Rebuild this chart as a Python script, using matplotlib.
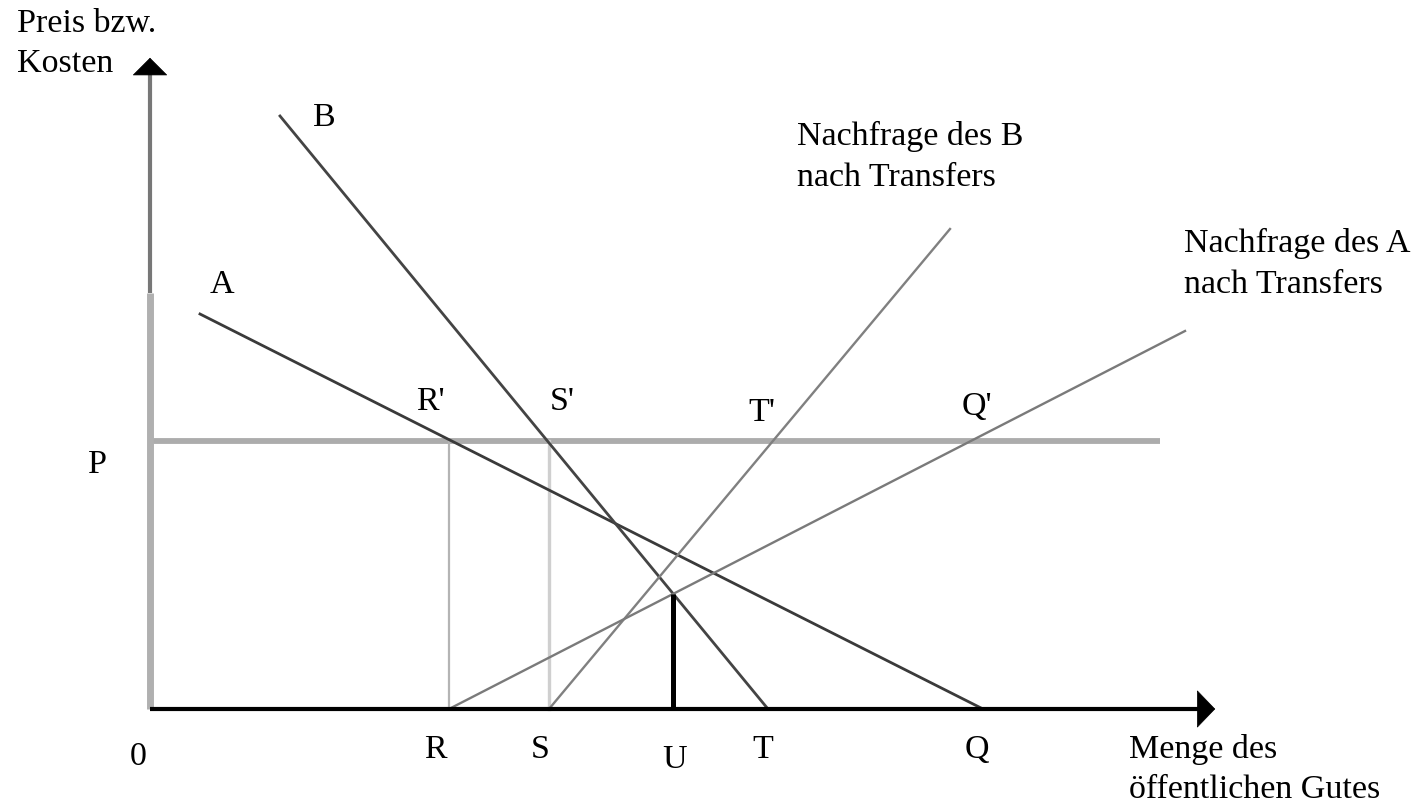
import matplotlib
matplotlib.use("Agg")
import matplotlib.pyplot as plt
import numpy as np

plt.rcParams['font.family'] = ['Liberation Serif', 'DejaVu Serif']

# ---- data (quantity, price) in arbitrary diagram units ----
price_P = 26.8
qty_labels = ['R', 'S', 'U', 'T', 'Q']
qty_R, qty_S, qty_T, qty_Q = 29.9, 39.9, 61.8, 83.3

demand_A_x = [5.0, qty_Q]
demand_A_y = [39.5, 0.0]
demand_B_x = [13.0, qty_T]
demand_B_y = [59.3, 0.0]
transfer_B_x = [qty_S, 80.0]
transfer_B_y = [0.0, 48.0]
transfer_A_x = [qty_R, 103.5]
transfer_A_y = [0.0, 37.8]
price_line_x = [0.0, 101.0]

x_axis_end = 106.8
y_axis_end = 65.2
y_axis_split = 41.6


def intersect(x1, y1, x2, y2):
    m1 = (y1[1] - y1[0]) / (x1[1] - x1[0])
    m2 = (y2[1] - y2[0]) / (x2[1] - x2[0])
    b1 = y1[0] - m1 * x1[0]
    b2 = y2[0] - m2 * x2[0]
    x = (b2 - b1) / (m1 - m2)
    return x, m1 * x + b1


qty_U, height_U = intersect(demand_B_x, demand_B_y, transfer_A_x, transfer_A_y)

fig = plt.figure(figsize=(14.17, 8.04), dpi=100)
ax = fig.add_axes([0, 0, 1, 1])
ax.set_xlim(-15, 126.7)
ax.set_ylim(-9.4, 71.0)
ax.axis('off')

# y axis (light lower part, darker upper part)
ax.plot([0, 0], [0, y_axis_split], color='#b0b0b0', lw=5.0, solid_capstyle='butt', zorder=2)
ax.plot([-0.05, -0.05], [y_axis_split, y_axis_end - 1.0], color='#777777', lw=3.0,
        solid_capstyle='butt', zorder=2)
ax.annotate('', xy=(0, y_axis_end + 0.2), xytext=(0, y_axis_end - 1.6),
            arrowprops=dict(arrowstyle='-|>,head_width=1.2,head_length=1.2',
                            mutation_scale=10, color='black', lw=0.5), zorder=3)

# x axis
ax.plot([0, x_axis_end - 1.5], [0, 0], color='black', lw=3.0, solid_capstyle='butt', zorder=5)
ax.annotate('', xy=(x_axis_end, 0), xytext=(x_axis_end - 2.0, 0),
            arrowprops=dict(arrowstyle='-|>,head_width=1.3,head_length=1.25',
                            mutation_scale=10, color='black', lw=0.5), zorder=5)

# price line
ax.plot(price_line_x, [price_P, price_P], color='#acacac', lw=4.2, solid_capstyle='butt', zorder=1)

# verticals at R and S
ax.plot([qty_R, qty_R], [0, price_P], color='#b4b4b4', lw=1.6, zorder=1)
ax.plot([qty_S, qty_S], [0, price_P], color='#cfcfcf', lw=2.4, zorder=1)

# demand curves
ax.plot(demand_A_x, demand_A_y, color='#3a3a3a', lw=2.0, zorder=3)
ax.plot(demand_B_x, demand_B_y, color='#444444', lw=2.0, zorder=3)
ax.plot(transfer_B_x, transfer_B_y, color='#808080', lw=1.7, zorder=3)
ax.plot(transfer_A_x, transfer_A_y, color='#7a7a7a', lw=1.7, zorder=3)

# U vertical
ax.plot([qty_U, qty_U], [0, height_U], color='black', lw=3.6, solid_capstyle='butt', zorder=4)

fs = 24.5
ls = 1.42
# axis titles
ax.text(-13.3, 70.2, 'Preis bzw.\nKosten', fontsize=fs, ha='left', va='top', linespacing=ls)
ax.text(97.9, -2.4, 'Menge des\nöffentlichen Gutes', fontsize=fs, ha='left', va='top',
        linespacing=ls)
ax.text(-1.2, -4.7, '0', fontsize=fs, ha='center', va='center')
ax.text(-5.3, 24.5, 'P', fontsize=fs, ha='center', va='center')

# quantity labels (small offsets from the marked quantity, as in the original)
label_pos = {'R': qty_R - 1.4, 'S': qty_S - 0.9, 'U': qty_U + 0.1,
             'T': qty_T - 0.5, 'Q': qty_Q - 0.6}
label_y = {'R': -4.0, 'S': -4.0, 'U': -5.0, 'T': -4.0, 'Q': -4.0}
for lab in qty_labels:
    ax.text(label_pos[lab], label_y[lab], lab, fontsize=fs, ha='center', va='center')

# point labels
ax.text(28.0, 30.8, "R'", fontsize=fs, ha='center', va='center')
ax.text(41.2, 30.8, "S'", fontsize=fs, ha='center', va='center')
ax.text(61.2, 29.7, "T'", fontsize=fs, ha='center', va='center')
ax.text(82.7, 30.3, "Q'", fontsize=fs, ha='center', va='center')

# curve labels
ax.text(7.2, 42.5, 'A', fontsize=fs, ha='center', va='center')
ax.text(17.4, 59.2, 'B', fontsize=fs, ha='center', va='center')
ax.text(64.7, 55.3, 'Nachfrage des B\nnach Transfers', fontsize=fs, ha='left', va='center',
        linespacing=ls)
ax.text(103.4, 44.6, 'Nachfrage des A\nnach Transfers', fontsize=fs, ha='left', va='center',
        linespacing=ls)

fig.savefig('out.png', dpi=100, facecolor='white')
